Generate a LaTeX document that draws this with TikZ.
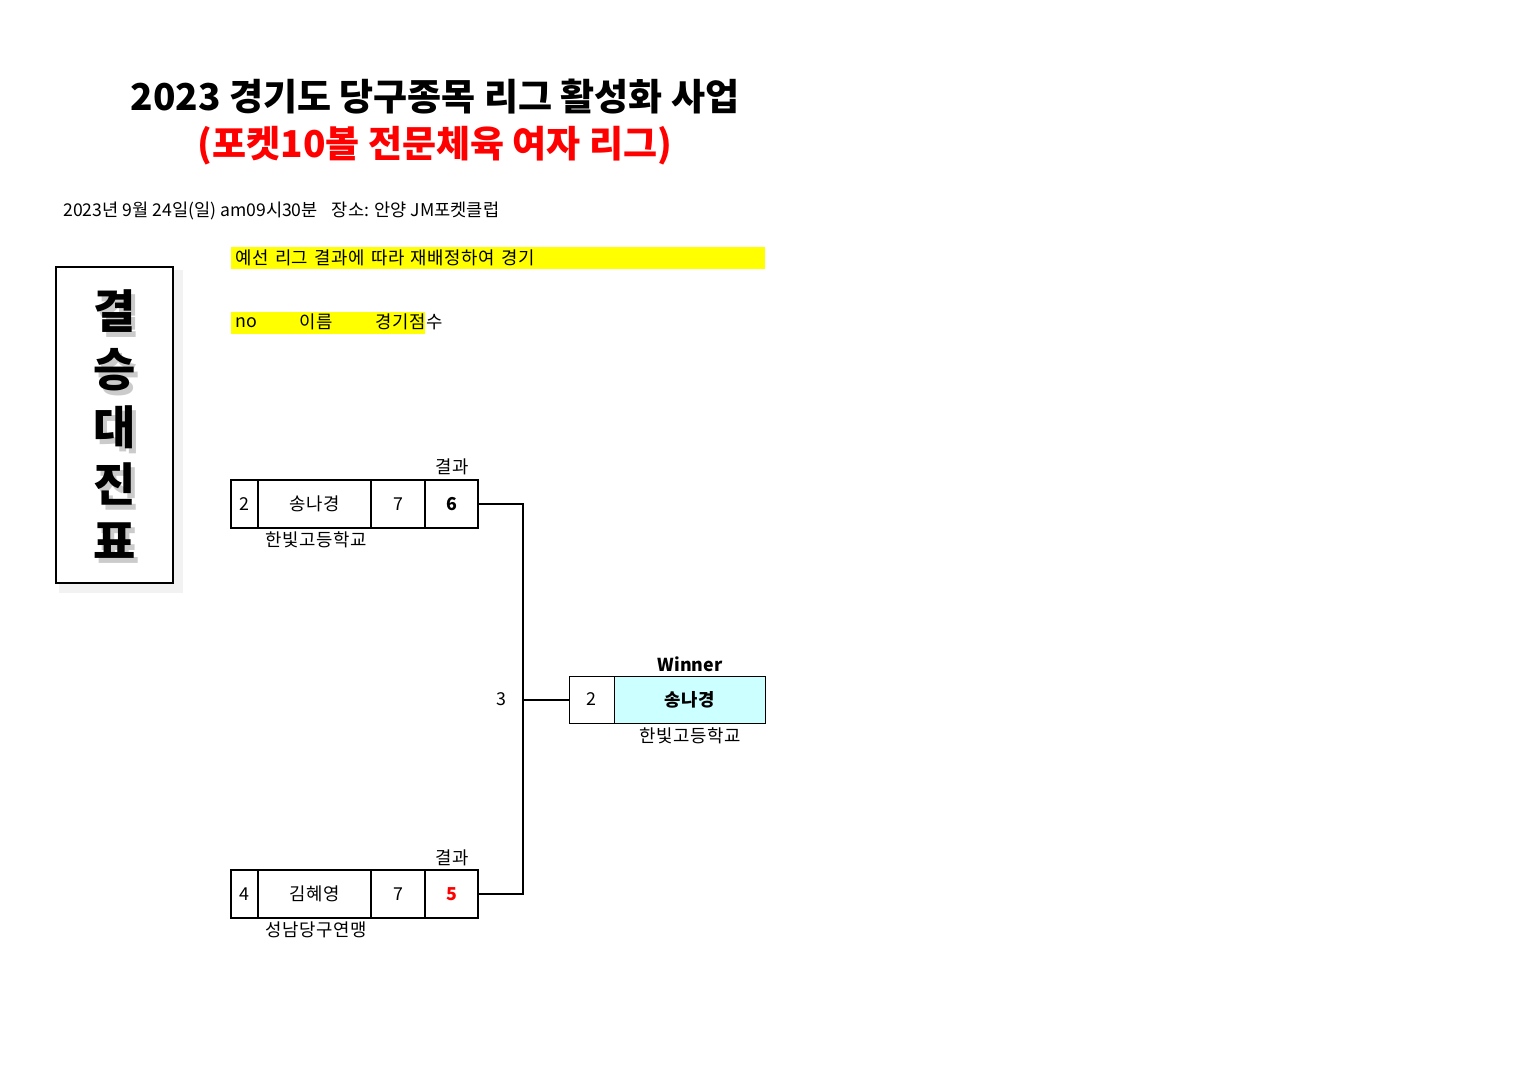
\documentclass[tikz,border=0pt]{standalone}
\usepackage{fontspec}
\setmainfont{Noto Sans CJK KR}
\newfontfamily\cjk{Noto Sans CJK KR}
\newfontfamily\bodyf{Noto Sans CJK KR}[LetterSpace=3,WordSpace=1.4]
\definecolor{hlyellow}{HTML}{FFFF00}
\definecolor{wincyan}{HTML}{CCFFFF}
\definecolor{redtxt}{HTML}{FF0000}
\begin{document}
\begin{tikzpicture}[x=0.5pt,y=-0.5pt,
  txt/.style={inner sep=0pt,font=\bodyf\fontsize{8.9}{10}\selectfont},
  cell/.style={draw,line width=1pt,inner sep=0pt,minimum height=24pt,font=\bodyf\fontsize{8.9}{10}\selectfont},
  wcell/.style={draw,line width=0.5pt,inner sep=0pt,minimum height=23.5pt,font=\bodyf\fontsize{8.9}{10}\selectfont},
  conn/.style={line width=1pt},
  vert/.style={inner sep=0pt,font=\cjk\fontsize{23}{26}\selectfont\bfseries},
  vshadow/.style={vert,text=black!45,opacity=0.45}
]
\useasboundingbox (0,0) rectangle (1527,1080);
\fill[white] (0,0) rectangle (1527,1080);

% titles
\node[inner sep=0pt,font=\cjk\fontsize{18.5}{22}\selectfont\bfseries] (t1) at (435,97) {2023 경기도 당구종목 리그 활성화 사업};
\node[inner sep=0pt,font=\cjk\fontsize{18.5}{22}\selectfont\bfseries,text=redtxt] (t2) at (435,146) {(포켓10볼 전문체육 여자 리그)};

\node[inner sep=0pt,anchor=west,font=\cjk\fontsize{8.8}{10}\selectfont] (date) at (63,211) {2023년 9월 24일(일) am09시30분\hspace{7pt}장소: 안양 JM포켓클럽};

% yellow bands
\fill[hlyellow] (231,247) rectangle (765,269);
\node[txt,anchor=west] (note) at (235,258) {예선 리그 결과에 따라 재배정하여 경기};
\fill[hlyellow] (231,312) rectangle (425,334);
\node[txt,anchor=west] (hno) at (235,323) {no};
\node[txt,anchor=west] (hname) at (299,322) {이름};
\node[txt,anchor=west] (hscore) at (375,322) {경기점수};

% left title box with shadow
\fill[black!10] (61,272) rectangle (180,590);
\fill[black!5] (59,270) rectangle (183,593);
\node[draw,line width=0.8pt,fill=white,inner sep=0pt,minimum width=58.5pt,minimum height=158pt] (vbox) at (114.5,425) {};
\foreach \ch/\yy [count=\i] in {결/311,승/370,대/427,진/484,표/541}{
  \node[vshadow] (vs\i) at (119,\yy+5) {\ch};
  \node[vert] (v\i) at (115,\yy) {\ch};
}

% match 1
\node[cell,minimum width=13.5pt] (a1) at (244.5,504) {2};
\node[cell,minimum width=56.5pt] (a2) at (314.5,504) {송나경};
\node[cell,minimum width=27pt] (a3) at (398,504) {7};
\node[cell,minimum width=26.5pt,font=\bodyf\fontsize{8.9}{10}\selectfont\bfseries] (a4) at (451.5,504) {6};
\node[txt] (ar) at (452,467) {결과};
\node[txt] (aclub) at (316,540) {한빛고등학교};

% match 2
\node[cell,minimum width=13.5pt] (b1) at (244.5,894) {4};
\node[cell,minimum width=56.5pt] (b2) at (314.5,894) {김혜영};
\node[cell,minimum width=27pt] (b3) at (398,894) {7};
\node[cell,minimum width=26.5pt,font=\bodyf\fontsize{8.9}{10}\selectfont\bfseries,text=redtxt] (b4) at (451.5,894) {5};
\node[txt] (br) at (452,858) {결과};
\node[txt] (bclub) at (316,930) {성남당구연맹};

% winner
\node[wcell,minimum width=22.5pt] (w1) at (591.5,699.5) {2};
\node[wcell,minimum width=75.5pt,fill=wincyan,font=\bodyf\fontsize{8.9}{10}\selectfont\bfseries] (w2) at (689.5,699.5) {송나경};
\node[inner sep=0pt,font=\cjk\fontsize{8.9}{10}\selectfont\bfseries] (wl) at (690,664) {Winner};
\node[txt] (wclub) at (690,736) {한빛고등학교};

% connectors
\coordinate (j) at (523,699.5);
\draw[conn] (a4.east) -| (j) |- (b4.east);
\draw[conn] (j) -- (w1.west);
\node[txt] (rnd) at (501,699) {3};
\end{tikzpicture}
\end{document}
